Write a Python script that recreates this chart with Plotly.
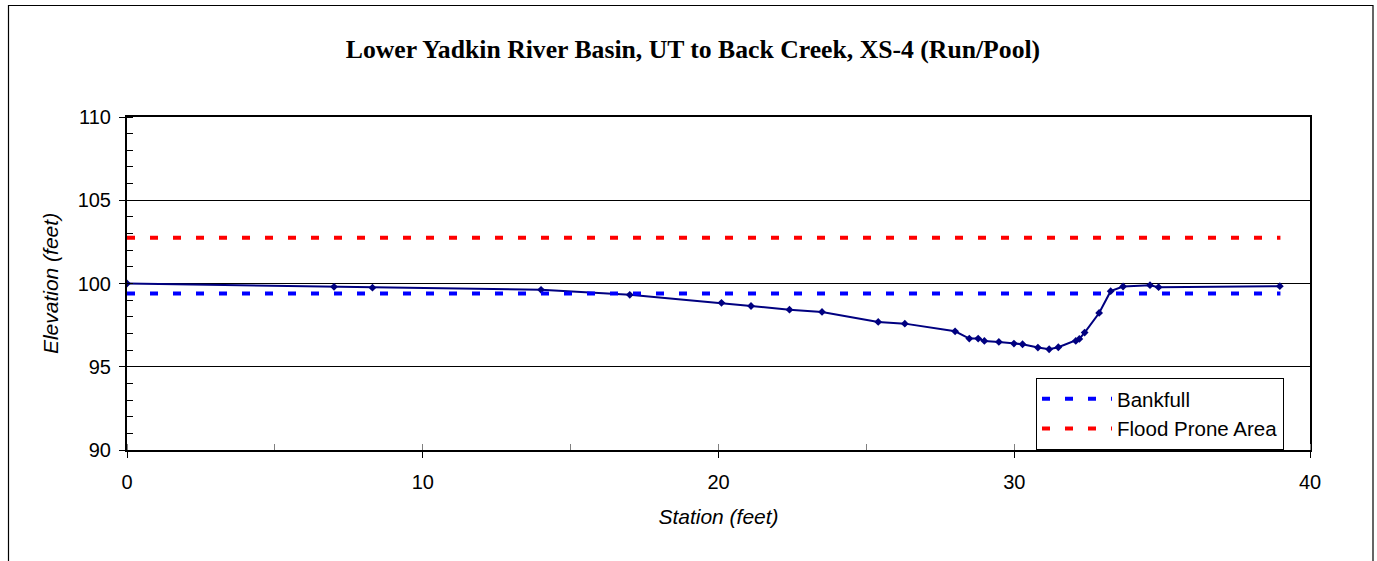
import plotly.graph_objects as go

station = [0, 7.0, 8.3, 14.0, 17.0, 20.1, 21.1, 22.4, 23.5, 25.4, 26.3, 28.0, 28.48, 28.78,
           28.99, 29.48, 29.99, 30.28, 30.8, 31.18, 31.49, 32.08, 32.2, 32.38, 32.87, 33.26,
           33.68, 34.59, 34.88, 38.98]
elevation = [100.0, 99.8, 99.75, 99.62, 99.32, 98.84, 98.65, 98.43, 98.29, 97.69, 97.59, 97.13,
             96.69, 96.69, 96.55, 96.49, 96.39, 96.35, 96.15, 96.05, 96.17, 96.55, 96.67, 97.05,
             98.23, 99.54, 99.82, 99.9, 99.78, 99.84]
bankfull_x = [0, 39.0]
bankfull_y = [99.4, 99.4]
flood_x = [0, 39.0]
flood_y = [102.75, 102.75]

title_text = "Lower Yadkin River Basin, UT to Back Creek, XS-4 (Run/Pool)"

W, H = 1377, 561
L, R, T, B = 127, 1310, 117, 450

fig = go.Figure()
fig.add_trace(go.Scatter(x=station, y=elevation, mode="lines+markers",
                         line=dict(color="#000080", width=2),
                         marker=dict(symbol="diamond", size=6, color="#000080"),
                         showlegend=False, name="XS-4"))
fig.add_trace(go.Scatter(x=bankfull_x, y=bankfull_y, mode="lines", name="Bankfull",
                         line=dict(color="#0000FF", width=4, dash="8px,15px")))
fig.add_trace(go.Scatter(x=flood_x, y=flood_y, mode="lines", name="Flood Prone Area",
                         line=dict(color="#FF0000", width=4, dash="8px,15px")))

pw = R - L
ph = B - T

def px_x(p):
    return (p - L) / pw

def px_y(p):
    return (B - p) / ph

fig.update_layout(
    width=W, height=H,
    margin=dict(l=L, r=W - R, t=T, b=H - B, pad=0),
    paper_bgcolor="white", plot_bgcolor="white",
    font=dict(family="Liberation Sans, Arial, sans-serif", size=20, color="black"),
    title=dict(text="<b>" + title_text + "</b>",
               font=dict(family="Liberation Serif, Times New Roman, serif", size=25.7, color="black"),
               x=px_x(693), xref="paper", xanchor="center",
               y=1 - 49 / H, yref="container", yanchor="middle"),
    legend=dict(x=px_x(1036), y=px_y(378), xanchor="left", yanchor="top",
                bgcolor="white", bordercolor="black", borderwidth=1,
                font=dict(size=20.5), itemwidth=70, tracegroupgap=0),
    shapes=[dict(type="rect", xref="paper", yref="paper",
                 x0=px_x(8.5), x1=px_x(1373), y0=px_y(600), y1=px_y(5.5),
                 line=dict(color="black", width=1.2), layer="below")],
)

fig.update_xaxes(range=[0, 40], dtick=10, tick0=0,
                 showline=True, linecolor="black", linewidth=2, mirror=True,
                 ticks="outside", ticklen=6, tickcolor="black", tickwidth=1,
                 minor=dict(dtick=5, ticks="inside", ticklen=6, tickcolor="gray"),
                 showgrid=False, zeroline=False,
                 tickfont=dict(size=20), ticklabelstandoff=7,
                 title=dict(text="<i>Station (feet)</i>", font=dict(size=21), standoff=17))
fig.update_yaxes(range=[90, 110], dtick=5, tick0=90,
                 showline=True, linecolor="black", linewidth=2, mirror=True,
                 ticks="outside", ticklen=6, tickcolor="black", tickwidth=1,
                 minor=dict(dtick=1, ticks="inside", ticklen=6, tickcolor="black"),
                 showgrid=True, gridcolor="black", gridwidth=1, zeroline=False,
                 tickfont=dict(size=20), ticklabelstandoff=4,
                 title=dict(text="<i>Elevation (feet)</i>", font=dict(size=21), standoff=13))

fig.write_html("out.html", config={"displayModeBar": False},
               post_script="document.body.style.margin='0';")
